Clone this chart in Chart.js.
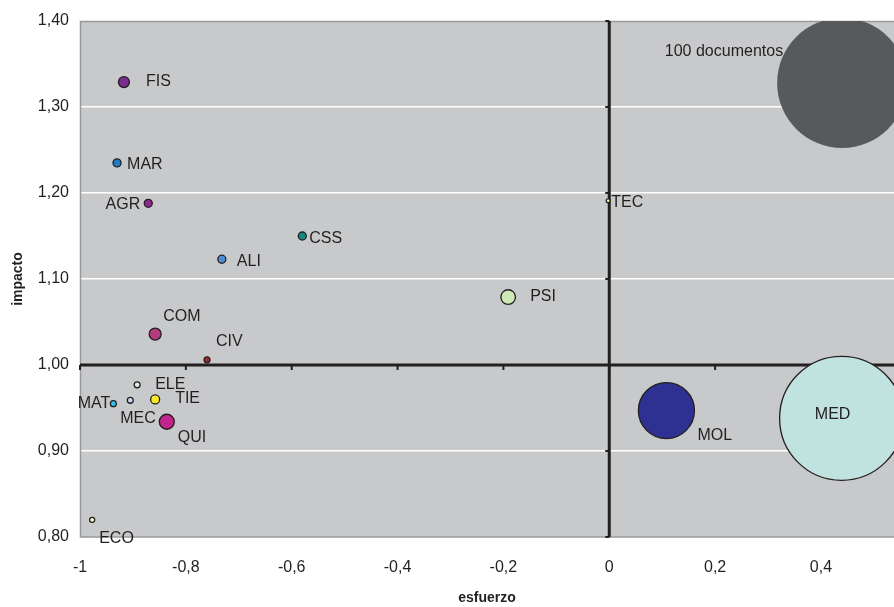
<!DOCTYPE html>
<html>
<head>
<meta charset="utf-8">
<script src="https://cdn.jsdelivr.net/npm/chart.js@4"></script>
<style>
  html, body { margin: 0; padding: 0; background: #fff; }
  #wrap { width: 894px; height: 607px; position: relative; }
</style>
</head>
<body>
<div id="wrap"><canvas id="chart"></canvas></div>
<script>
// areas and values
const labels = ["FIS", "MAR", "AGR", "CSS", "ALI", "TEC", "PSI", "COM", "CIV", "ELE", "TIE", "MEC", "MAT", "QUI", "ECO", "MOL", "MED", "100 documentos"];
const esfuerzo = [-0.917, -0.930, -0.871, -0.580, -0.732, -0.002, -0.191, -0.858, -0.760, -0.892, -0.858, -0.905, -0.937, -0.836, -0.977, 0.108, 0.439, 0.44];
const impacto = [1.329, 1.235, 1.188, 1.150, 1.123, 1.191, 1.079, 1.036, 1.006, 0.977, 0.960, 0.959, 0.955, 0.934, 0.820, 0.947, 0.938, 1.328];
const documentos = [0.72, 0.38, 0.38, 0.38, 0.38, 0.09, 1.26, 0.85, 0.21, 0.21, 0.48, 0.21, 0.21, 1.33, 0.15, 18.6, 91, 100];
const xTicks = [-1, -0.8, -0.6, -0.4, -0.2, 0, 0.2, 0.4];
const yTicks = [0.8, 0.9, 1.0, 1.1, 1.2, 1.3, 1.4];

const colors = ["#7a2b8c", "#1b7dc2", "#8b2a8c", "#138a80", "#4b8fd2", "#ffff99", "#cde9b6", "#b23c7c", "#a4282b", "#d9f1e6", "#fbe824", "#c6d6ef", "#35c6ea", "#c2238d", "#ffffcc", "#2e3192", "#c1e3df", "#58595b"];

// where each label sits relative to its bubble
const labelPos = {
  "FIS": [22, 0, "left"], "MAR": [10, 2, "left"], "AGR": [-8, 1, "right"],
  "CSS": [7, 3, "left"], "ALI": [15, 2, "left"], "TEC": [3, 2, "left"],
  "PSI": [22, 0, "left"], "COM": [8, -17, "left"], "CIV": [9, -18, "left"],
  "ELE": [18, 0, "left"], "TIE": [20, -1, "left"], "MEC": [-10, 18, "left"],
  "MAT": [-3, 0, "right"], "QUI": [11, 16, "left"], "ECO": [7, 19, "left"],
  "MOL": [31, 25, "left"], "MED": [-9, -4, "center"], "100 documentos": [-59, -31, "right"]
};

const FONT = "'Liberation Sans', Arial, sans-serif";
const TEXT = "#231f20";
const AXIS = "#231f20";
const REF_R = 65; // pixel radius of the 100 documentos bubble

const points = labels.map((l, i) => ({
  x: esfuerzo[i], y: impacto[i], r: REF_R * Math.sqrt(documentos[i] / 100), label: l
}));

const fmt = (v, d) => {
  const s = d ? v.toFixed(d) : String(Math.round(v * 10) / 10);
  return s.replace(".", ",");
};

const plotDecor = {
  id: "plotDecor",
  beforeDraw(chart) {
    const { ctx, chartArea: a } = chart;
    ctx.save();
    ctx.fillStyle = "#c8c9cb";
    ctx.fillRect(a.left, a.top, a.right - a.left, a.bottom - a.top);
    ctx.restore();
  },
  beforeDatasetsDraw(chart) {
    const { ctx, chartArea: a, scales } = chart;
    const x0 = scales.x.getPixelForValue(0);
    const y1 = scales.y.getPixelForValue(1);
    ctx.save();
    // frame
    ctx.strokeStyle = "#9a9a9c";
    ctx.lineWidth = 1.5;
    ctx.beginPath();
    ctx.moveTo(a.right, a.top + 0.5);
    ctx.lineTo(a.left + 0.5, a.top + 0.5);
    ctx.lineTo(a.left + 0.5, a.bottom);
    ctx.lineTo(a.right, a.bottom);
    ctx.stroke();
    // crossing axes
    ctx.strokeStyle = AXIS;
    ctx.lineWidth = 3;
    ctx.beginPath();
    ctx.moveTo(a.left, y1);
    ctx.lineTo(a.right, y1);
    ctx.moveTo(x0, a.top);
    ctx.lineTo(x0, a.bottom);
    ctx.stroke();
    ctx.lineWidth = 2;
    ctx.beginPath();
    xTicks.forEach((t) => {
      const px = scales.x.getPixelForValue(t);
      ctx.moveTo(px, y1);
      ctx.lineTo(px, y1 + 5);
    });
    yTicks.forEach((t) => {
      const py = scales.y.getPixelForValue(t);
      ctx.moveTo(x0, py);
      ctx.lineTo(x0 - 4, py);
    });
    ctx.stroke();
    ctx.restore();
  },
  afterDatasetsDraw(chart) {
    const { ctx } = chart;
    const meta = chart.getDatasetMeta(0);
    ctx.save();
    ctx.font = "16px " + FONT;
    ctx.fillStyle = TEXT;
    ctx.textBaseline = "middle";
    meta.data.forEach((el, i) => {
      const p = labelPos[labels[i]] || [8, 0, "left"];
      ctx.textAlign = p[2];
      ctx.fillText(labels[i], el.x + p[0], el.y + p[1]);
    });
    ctx.restore();
  }
};

new Chart(document.getElementById("chart"), {
  type: "bubble",
  data: {
    datasets: [{
      data: points,
      backgroundColor: colors,
      borderColor: labels.map((l) => (l === "100 documentos" ? "rgba(0,0,0,0)" : AXIS)),
      borderWidth: 1.3,
      hoverRadius: 0
    }]
  },
  options: {
    responsive: true,
    maintainAspectRatio: false,
    animation: false,
    events: [],
    layout: { autoPadding: false, padding: { top: 21, right: 0, left: 0, bottom: 0 } },
    plugins: { legend: { display: false }, tooltip: { enabled: false } },
    scales: {
      x: {
        type: "linear",
        min: -1,
        max: 0.538,
        afterBuildTicks: (s) => { s.ticks = xTicks.map((v) => ({ value: v })); },
        afterFit: (s) => { s.height = 70; },
        grid: { display: false, drawTicks: false },
        border: { display: false },
        ticks: {
          padding: 21,
          color: TEXT,
          font: { family: FONT, size: 16 },
          callback: (v) => fmt(v, 0)
        },
        title: {
          display: true,
          text: "esfuerzo",
          color: TEXT,
          font: { family: FONT, size: 14, weight: "bold" },
          padding: { top: 10, bottom: 0 }
        }
      },
      y: {
        type: "linear",
        min: 0.8,
        max: 1.4,
        afterBuildTicks: (s) => { s.ticks = yTicks.map((v) => ({ value: v })); },
        afterFit: (s) => { s.width = 80; },
        grid: {
          drawTicks: false,
          lineWidth: 1.5,
          color: (c) => {
            const v = Math.round(c.tick.value * 100) / 100;
            return [0.9, 1.1, 1.2, 1.3].includes(v) ? "#ffffff" : "rgba(0,0,0,0)";
          }
        },
        border: { display: false },
        ticks: {
          padding: 11,
          color: TEXT,
          font: { family: FONT, size: 16 },
          callback: (v) => fmt(v, 2)
        },
        title: {
          display: true,
          text: "impacto",
          color: TEXT,
          font: { family: FONT, size: 14, weight: "bold" },
          padding: { top: 10, bottom: 0 }
        }
      }
    }
  },
  plugins: [plotDecor]
});
</script>
</body>
</html>
